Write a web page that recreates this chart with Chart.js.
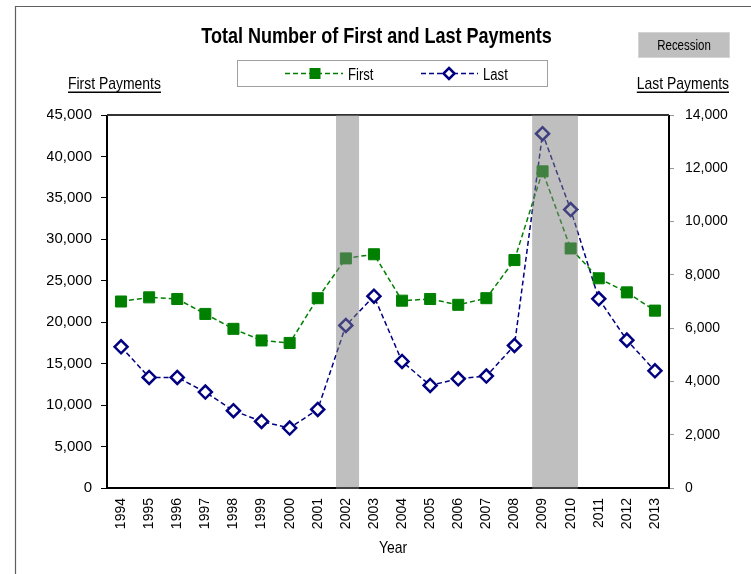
<!DOCTYPE html>
<html><head><meta charset="utf-8">
<script src="https://cdn.jsdelivr.net/npm/chart.js@4.4.1/dist/chart.umd.min.js"></script>
<style>html,body{margin:0;padding:0;background:#fff;}canvas{display:block;}</style>
</head><body>
<canvas id="c" width="751" height="574"></canvas>
<script>
// ---- data ----
const years = ['1994','1995','1996','1997','1998','1999','2000','2001','2002','2003','2004','2005','2006','2007','2008','2009','2010','2011','2012','2013'];
const firstPayments = [22500,23000,22800,21000,19200,17800,17500,22900,27700,28200,22600,22800,22100,22900,27500,38200,28900,25300,23600,21400];
const lastPayments = [5300,4150,4150,3600,2900,2500,2250,2950,6100,7200,4750,3850,4100,4200,5350,13300,10450,7100,5550,4400];
const leftAxisMax = 45000, leftAxisStep = 5000;
const rightAxisMax = 14000, rightAxisStep = 2000;
const recessionStart = [2001.65, 2008.63];
const recessionEnd = [2002.47, 2010.26];

// ---- font helper (narrow font fallback) ----
const mctx = document.createElement('canvas').getContext('2d');
function hasFont(name){
  mctx.font = '100px monospace'; const a = mctx.measureText('Recession Payments 123').width;
  mctx.font = '100px "' + name + '", monospace'; const b = mctx.measureText('Recession Payments 123').width;
  return Math.abs(a-b) > 1;
}
const NARROW_OK = hasFont('Liberation Sans Narrow');
function narrowText(ctx, text, x, y, size, bold, align, baseline){
  ctx.save();
  ctx.fillStyle = '#000';
  ctx.textBaseline = baseline || 'alphabetic';
  ctx.textAlign = align || 'left';
  if (NARROW_OK) {
    ctx.font = (bold?'bold ':'') + size + 'px "Liberation Sans Narrow"';
    ctx.fillText(text, x, y);
  } else {
    ctx.font = (bold?'bold ':'') + size + 'px "Liberation Sans", Arial, sans-serif';
    ctx.translate(x, y); ctx.scale(0.82, 1);
    ctx.fillText(text, 0, 0);
  }
  ctx.restore();
}
function textWidth(ctx, text, size, bold){
  ctx.save();
  let w;
  if (NARROW_OK) { ctx.font = (bold?'bold ':'') + size + 'px "Liberation Sans Narrow"'; w = ctx.measureText(text).width; }
  else { ctx.font = (bold?'bold ':'') + size + 'px "Liberation Sans"'; w = ctx.measureText(text).width*0.82; }
  ctx.restore();
  return w;
}

const fmt = v => Number(v).toLocaleString('en-US');

const decorPlugin = {
  id: 'decor',
  beforeDatasetsDraw(chart){
    const {ctx, chartArea: a} = chart;
    ctx.save();
    ctx.strokeStyle = '#000';
    ctx.lineWidth = 2;
    ctx.beginPath();
    ctx.moveTo(a.left, a.top); ctx.lineTo(a.left, a.bottom); ctx.lineTo(a.right, a.bottom); ctx.lineTo(a.right, a.top);
    ctx.stroke();
    ctx.strokeStyle = '#333';
    ctx.beginPath(); ctx.moveTo(a.left, a.top); ctx.lineTo(a.right, a.top); ctx.stroke();
    ctx.restore();
  },
  afterDatasetsDraw(chart){
    const {ctx, chartArea: a} = chart;
    const xs = chart.scales.x;
    const base = Number(years[0]);
    ctx.save();
    ctx.fillStyle = 'rgba(128,128,128,0.5)';
    for (let i = 0; i < recessionStart.length; i++){
      const x0 = xs.getPixelForValue(recessionStart[i] - base);
      const x1 = xs.getPixelForValue(recessionEnd[i] - base);
      ctx.fillRect(x0, a.top, x1 - x0, a.bottom - a.top + 1);
    }
    ctx.restore();
  },
  afterDraw(chart){
    const {ctx, chartArea: a} = chart;
    ctx.save();
    // outer frame
    ctx.strokeStyle = '#606060'; ctx.lineWidth = 1.2;
    ctx.beginPath(); ctx.moveTo(15.5, 574); ctx.lineTo(15.5, 6.5); ctx.lineTo(751, 6.5); ctx.stroke();
    // title
    narrowText(ctx, 'Total Number of First and Last Payments', 376.5, 43, 22, true, 'center');
    // recession key
    ctx.fillStyle = '#bfbfbf'; ctx.fillRect(638, 32, 92, 26);
    ctx.strokeStyle = '#d4d4d4'; ctx.lineWidth = 1; ctx.strokeRect(638.5, 32.5, 91, 25);
    narrowText(ctx, 'Recession', 684, 50, 14, false, 'center');
    // legend box
    ctx.fillStyle = '#fff'; ctx.fillRect(237, 60, 310, 27);
    ctx.strokeStyle = '#a0a0a0'; ctx.lineWidth = 1; ctx.strokeRect(237.5, 60.5, 310, 26);
    const ly = 73.5;
    ctx.setLineDash([5,3]); ctx.lineWidth = 1.5;
    ctx.strokeStyle = '#008000';
    ctx.beginPath(); ctx.moveTo(285, ly); ctx.lineTo(343, ly); ctx.stroke();
    ctx.strokeStyle = '#000080';
    ctx.beginPath(); ctx.moveTo(421, ly); ctx.lineTo(478, ly); ctx.stroke();
    ctx.setLineDash([]);
    ctx.fillStyle = '#008000'; ctx.fillRect(309.5, ly - 5.5, 11, 11);
    ctx.fillStyle = '#fff'; ctx.strokeStyle = '#000080'; ctx.lineWidth = 2.5;
    ctx.beginPath(); ctx.moveTo(449, ly - 5.5); ctx.lineTo(454.5, ly); ctx.lineTo(449, ly + 5.5); ctx.lineTo(443.5, ly); ctx.closePath(); ctx.fill(); ctx.stroke();
    narrowText(ctx, 'First', 348, 80, 16, false, 'left');
    narrowText(ctx, 'Last', 483, 80, 16, false, 'left');
    // axis titles
    narrowText(ctx, 'First Payments', 68, 89, 17, false, 'left');
    const w1 = textWidth(ctx, 'First Payments', 17, false);
    narrowText(ctx, 'Last Payments', 729, 89, 17, false, 'right');
    const w2 = textWidth(ctx, 'Last Payments', 17, false);
    ctx.fillStyle = '#000';
    ctx.fillRect(68, 91.5, w1, 1.5);
    ctx.fillRect(729 - w2, 91.5, w2, 1.5);
    narrowText(ctx, 'Year', 393, 553, 17, false, 'center');
    ctx.restore();
  }
};

Chart.defaults.font.family = '"Liberation Sans", Arial, sans-serif';
Chart.defaults.color = '#000';

new Chart(document.getElementById('c'), {
  type: 'line',
  data: {
    labels: years,
    datasets: [
      {
        label: 'First', data: firstPayments, yAxisID: 'y',
        borderColor: '#008000', backgroundColor: '#008000',
        borderWidth: 1.5, borderDash: [5,3], tension: 0, fill: false,
        pointStyle: 'rect', pointRadius: 7.8, pointHoverRadius: 7.8,
        pointBackgroundColor: '#008000', pointBorderColor: '#008000', pointBorderWidth: 1
      },
      {
        label: 'Last', data: lastPayments, yAxisID: 'y1',
        borderColor: '#000080', backgroundColor: '#fff',
        borderWidth: 1.5, borderDash: [5,3], tension: 0, fill: false,
        pointStyle: 'rectRot', pointRadius: 6.5, pointHoverRadius: 6.5,
        pointBackgroundColor: '#fff', pointBorderColor: '#000080', pointBorderWidth: 2.5
      }
    ]
  },
  options: {
    responsive: false,
    animation: false,
    layout: { padding: { left: 47, right: 12, top: 115, bottom: 26 } },
    plugins: { legend: { display: false }, title: { display: false }, tooltip: { enabled: false } },
    scales: {
      x: {
        type: 'category', offset: true,
        grid: { display: false, drawTicks: false },
        border: { display: false },
        ticks: { autoSkip: false, maxRotation: 90, minRotation: 90, padding: 10, font: { size: 14 }, color: '#000' },
        afterFit: s => { s.height = 60; }
      },
      y: {
        position: 'left', min: 0, max: leftAxisMax,
        grid: { drawOnChartArea: false, drawTicks: true, tickLength: 6, color: '#000' },
        border: { display: false },
        ticks: { stepSize: leftAxisStep, padding: 9, font: { size: 15 }, color: '#000', callback: v => fmt(v) },
        afterFit: s => { s.width = 60; }
      },
      y1: {
        position: 'right', min: 0, max: rightAxisMax,
        grid: { drawOnChartArea: false, drawTicks: true, tickLength: 5, color: '#999' },
        border: { display: false },
        ticks: { stepSize: rightAxisStep, padding: 11, font: { size: 14 }, color: '#000', callback: v => fmt(v) },
        afterFit: s => { s.width = 70; }
      }
    }
  },
  plugins: [decorPlugin]
});
</script>
</body></html>
